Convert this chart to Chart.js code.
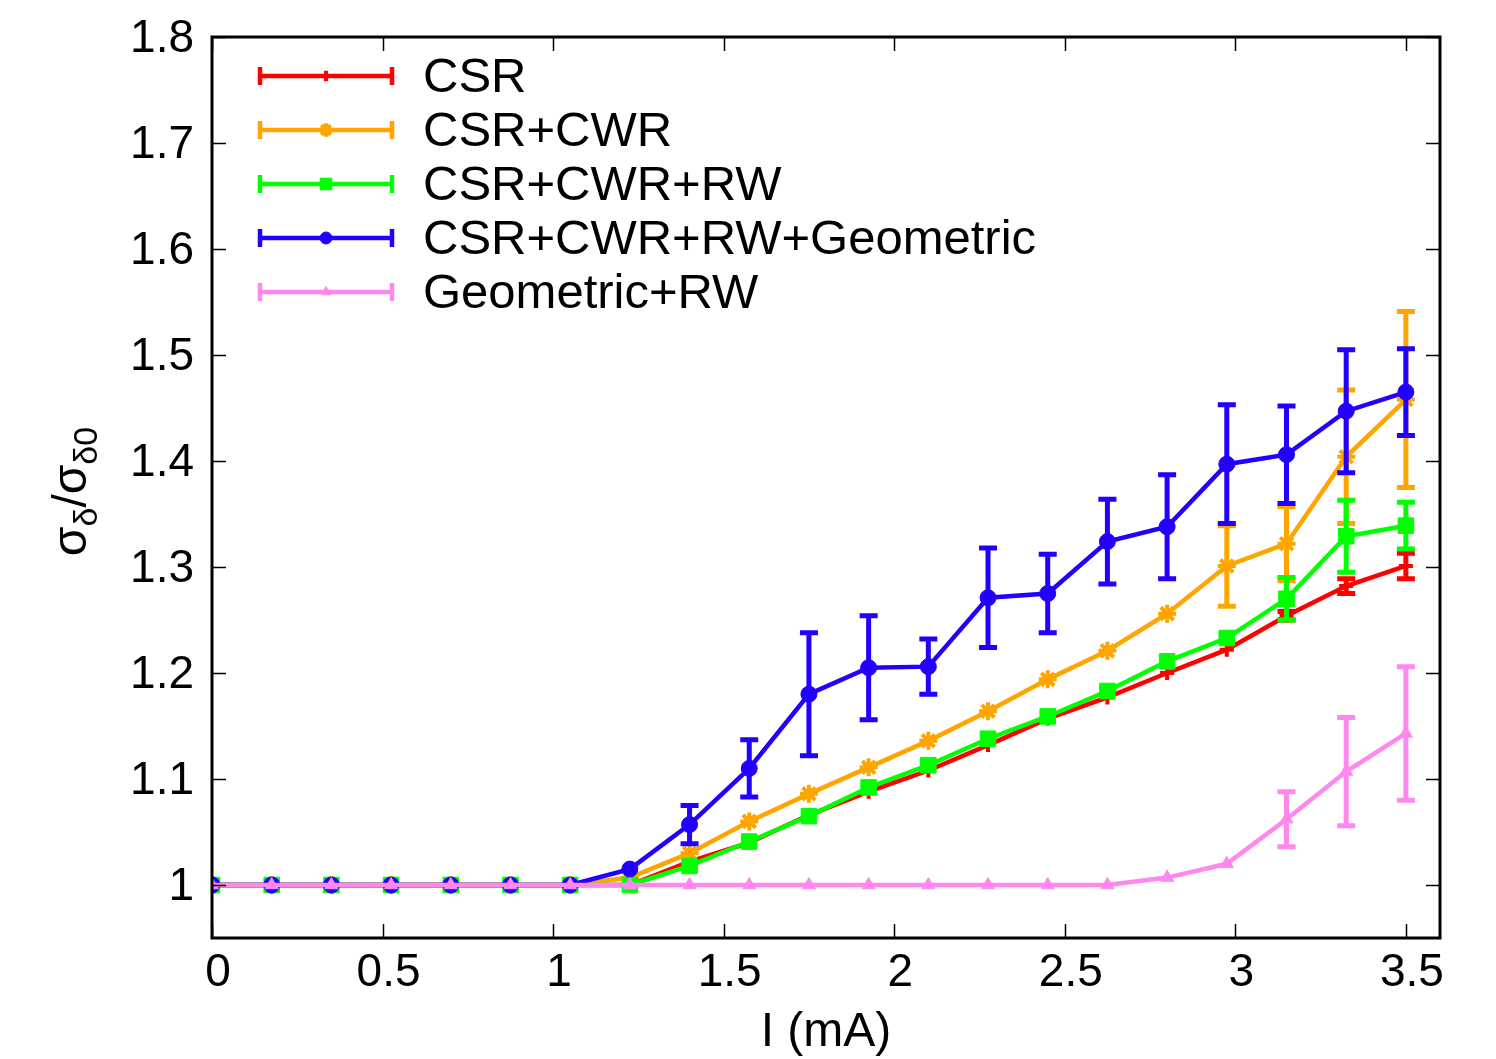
<!DOCTYPE html>
<html>
<head>
<meta charset="utf-8">
<script src="https://cdn.jsdelivr.net/npm/chart.js@4.4.1/dist/chart.umd.min.js"></script>
<style>
    html, body { margin: 0; padding: 0; background: #fff; }
</style>
</head>
<body>
<canvas id="chart" width="1496" height="1059"></canvas>
<script>
// Beam current values (mA)
const currents = [0, 0.175, 0.35, 0.525, 0.7, 0.875, 1.05, 1.225, 1.4, 1.575, 1.75,
    1.925, 2.1, 2.275, 2.45, 2.625, 2.8, 2.975, 3.15, 3.325, 3.5];

// Tick labels
const xTicks = [0, 0.5, 1, 1.5, 2, 2.5, 3, 3.5];
const yTicks = [1, 1.1, 1.2, 1.3, 1.4, 1.5, 1.6, 1.7, 1.8];

// Series values (sigma_delta / sigma_delta0)
const csr = [1, 1, 1, 1, 1, 1, 1, 1.0, 1.022, 1.04, 1.066, 1.088, 1.108, 1.132, 1.157,
    1.177, 1.2, 1.222, 1.254, 1.282, 1.301];
const csrCwr = [1, 1, 1, 1, 1, 1, 1, 1.007, 1.03, 1.06, 1.086, 1.111, 1.136, 1.164, 1.194,
    1.221, 1.256, 1.301, 1.322, 1.404, 1.458];
const csrCwrRw = [1, 1, 1, 1, 1, 1, 1, 1.0, 1.018, 1.041, 1.065, 1.092, 1.113, 1.138, 1.159,
    1.183, 1.211, 1.233, 1.27, 1.329, 1.339];
const csrCwrRwGeo = [1, 1, 1, 1, 1, 1, 1, 1.015, 1.057, 1.11, 1.18, 1.205, 1.206, 1.271, 1.275,
    1.324, 1.338, 1.397, 1.406, 1.447, 1.465];
const geoRw = [1, 1, 1, 1, 1, 1, 1, 1, 1, 1, 1, 1, 1, 1, 1,
    1, 1.007, 1.02, 1.062, 1.107, 1.143];

// Error bar half widths (null = no bar)
const csrErr = [null, null, null, null, null, null, null, null, null, null, null, null, null, null, null,
    null, null, null, 0.004, 0.007, 0.012];
const csrCwrErr = [null, null, null, null, null, null, null, null, null, null, null, null, null, null, null,
    null, null, 0.038, 0.035, 0.063, 0.083];
const csrCwrRwErr = [null, null, null, null, null, null, null, null, null, null, null, null, null, null, null,
    null, null, null, 0.02, 0.034, 0.022];
const csrCwrRwGeoErr = [null, null, null, null, null, null, null, null, 0.018, 0.027, 0.058, 0.049, 0.026, 0.047, 0.037,
    0.04, 0.049, 0.056, 0.046, 0.058, 0.041];
const geoRwErr = [null, null, null, null, null, null, null, null, null, null, null, null, null, null, null,
    null, null, null, 0.026, 0.051, 0.063];

const FONT = '"Liberation Sans", Arial, Helvetica, sans-serif';

const makeSet = (label, values, errors, color, style, radius, lineW, order) => ({
    label: label,
    data: currents.map((x, i) => ({ x: x, y: values[i] })),
    errors: errors,
    borderColor: color,
    backgroundColor: color,
    borderWidth: 4.5,
    pointStyle: style,
    pointRadius: radius,
    pointBorderWidth: lineW,
    pointBorderColor: color,
    pointBackgroundColor: color,
    tension: 0,
    fill: false,
    order: order
});

const datasets = [
    makeSet('CSR', csr, csrErr, '#ff0000', 'cross', 7, 4, 5),
    makeSet('CSR+CWR', csrCwr, csrCwrErr, '#ffa500', 'star', 9, 4, 4),
    makeSet('CSR+CWR+RW', csrCwrRw, csrCwrRwErr, '#00ff00', 'rect', 11, 1, 3),
    makeSet('CSR+CWR+RW+Geometric', csrCwrRwGeo, csrCwrRwGeoErr, '#2200ff', 'circle', 8, 1, 2),
    makeSet('Geometric+RW', geoRw, geoRwErr, '#ff88ee', 'triangle', 7.5, 1, 1)
];

// Draw vertical error bars after each dataset so layering follows the series order
const errorBars = {
    id: 'errorBars',
    afterDatasetDraw(chart, args) {
        const ds = chart.data.datasets[args.index];
        if (!ds.errors) return;
        const { ctx } = chart;
        const xs = chart.scales.x;
        const ys = chart.scales.y;
        ctx.save();
        ctx.strokeStyle = ds.borderColor;
        ctx.lineWidth = 5;
        ds.errors.forEach((e, i) => {
            if (e == null) return;
            const px = xs.getPixelForValue(ds.data[i].x);
            const top = ys.getPixelForValue(ds.data[i].y + e);
            const bot = ys.getPixelForValue(ds.data[i].y - e);
            ctx.beginPath();
            ctx.moveTo(px, top);
            ctx.lineTo(px, bot);
            ctx.moveTo(px - 9, top);
            ctx.lineTo(px + 9, top);
            ctx.moveTo(px - 9, bot);
            ctx.lineTo(px + 9, bot);
            ctx.stroke();
        });
        ctx.restore();
    }
};

// Frame with inward ticks on all four sides, axis titles and the key
const decorations = {
    id: 'decorations',
    afterDraw(chart) {
        const { ctx, chartArea: a } = chart;
        const xs = chart.scales.x;
        const ys = chart.scales.y;
        ctx.save();

        // ticks
        ctx.strokeStyle = '#000';
        ctx.lineWidth = 1.5;
        ctx.beginPath();
        xTicks.forEach(v => {
            const px = Math.round(xs.getPixelForValue(v)) + 0.5;
            ctx.moveTo(px, a.bottom);
            ctx.lineTo(px, a.bottom - 14);
            ctx.moveTo(px, a.top);
            ctx.lineTo(px, a.top + 14);
        });
        yTicks.forEach(v => {
            const py = Math.round(ys.getPixelForValue(v)) + 0.5;
            ctx.moveTo(a.left, py);
            ctx.lineTo(a.left + 14, py);
            ctx.moveTo(a.right, py);
            ctx.lineTo(a.right - 14, py);
        });
        ctx.stroke();

        // border
        ctx.lineWidth = 3;
        ctx.strokeRect(a.left, a.top, a.right - a.left, a.bottom - a.top);

        // x title
        ctx.fillStyle = '#000';
        ctx.font = '48px ' + FONT;
        ctx.textAlign = 'center';
        ctx.textBaseline = 'alphabetic';
        ctx.fillText('I (mA)', (a.left + a.right) / 2, 1046);

        // y title: sigma_delta / sigma_delta0, rotated
        ctx.save();
        ctx.translate(86, (a.top + a.bottom) / 2 + 4);
        ctx.rotate(-Math.PI / 2);
        const big = '48px ' + FONT;
        const small = '34px ' + FONT;
        const parts = [
            { t: 'σ', f: big, dy: 0 },
            { t: 'δ', f: small, dy: 11 },
            { t: '/', f: big, dy: 0 },
            { t: 'σ', f: big, dy: 0 },
            { t: 'δ0', f: small, dy: 11 }
        ];
        let total = 0;
        parts.forEach(p => { ctx.font = p.f; total += ctx.measureText(p.t).width; });
        let cx = -total / 2;
        ctx.textAlign = 'left';
        parts.forEach(p => {
            ctx.font = p.f;
            ctx.fillText(p.t, cx, p.dy);
            cx += ctx.measureText(p.t).width;
        });
        ctx.restore();

        // key
        chart.data.datasets.forEach((ds, k) => {
            const yy = 76 + k * 54;
            ctx.strokeStyle = ds.borderColor;
            ctx.fillStyle = ds.borderColor;
            ctx.lineWidth = 4.5;
            ctx.beginPath();
            ctx.moveTo(260, yy);
            ctx.lineTo(392, yy);
            ctx.moveTo(260, yy - 9);
            ctx.lineTo(260, yy + 9);
            ctx.moveTo(392, yy - 9);
            ctx.lineTo(392, yy + 9);
            ctx.stroke();
            ctx.lineWidth = ds.pointBorderWidth;
            Chart.helpers.drawPoint(ctx, {
                pointStyle: ds.pointStyle,
                radius: ds.pointRadius * 0.75,
                rotation: 0,
                borderWidth: ds.pointBorderWidth
            }, 326, yy);
            ctx.fillStyle = '#000';
            ctx.font = '49px ' + FONT;
            ctx.textAlign = 'left';
            ctx.textBaseline = 'middle';
            ctx.fillText(ds.label, 423, yy + 2);
        });

        ctx.restore();
    }
};

const initChart = () => {
    const ctx = document.getElementById('chart').getContext('2d');

    const config = {
        type: 'line',
        data: { datasets: datasets },
        options: {
            responsive: false,
            devicePixelRatio: 1,
            animation: false,
            layout: { padding: { left: 0, top: 37, right: 56, bottom: 0 } },
            plugins: {
                legend: { display: false },
                tooltip: { enabled: false }
            },
            scales: {
                x: {
                    type: 'linear',
                    min: 0,
                    max: 3.6,
                    grid: { display: false, drawTicks: false },
                    border: { display: false },
                    afterBuildTicks: (scale) => { scale.ticks = xTicks.map(v => ({ value: v })); },
                    afterFit: (scale) => {
                        scale.height = 121;
                        scale.paddingLeft = 0;
                        scale.paddingRight = 0;
                    },
                    ticks: {
                        padding: 8,
                        labelOffset: 6,
                        maxRotation: 0,
                        color: '#000',
                        font: { family: FONT, size: 46 },
                        callback: (v) => String(v)
                    }
                },
                y: {
                    type: 'linear',
                    min: 0.95,
                    max: 1.8,
                    grid: { display: false, drawTicks: false },
                    border: { display: false },
                    afterBuildTicks: (scale) => { scale.ticks = yTicks.map(v => ({ value: v })); },
                    afterFit: (scale) => {
                        scale.width = 212;
                        scale.paddingTop = 0;
                        scale.paddingBottom = 0;
                    },
                    ticks: {
                        padding: 18,
                        labelOffset: 2,
                        color: '#000',
                        font: { family: FONT, size: 46 },
                        callback: (v) => String(v)
                    }
                }
            }
        },
        plugins: [errorBars, decorations]
    };

    new Chart(ctx, config);
};

document.addEventListener('DOMContentLoaded', initChart);
</script>
</body>
</html>
